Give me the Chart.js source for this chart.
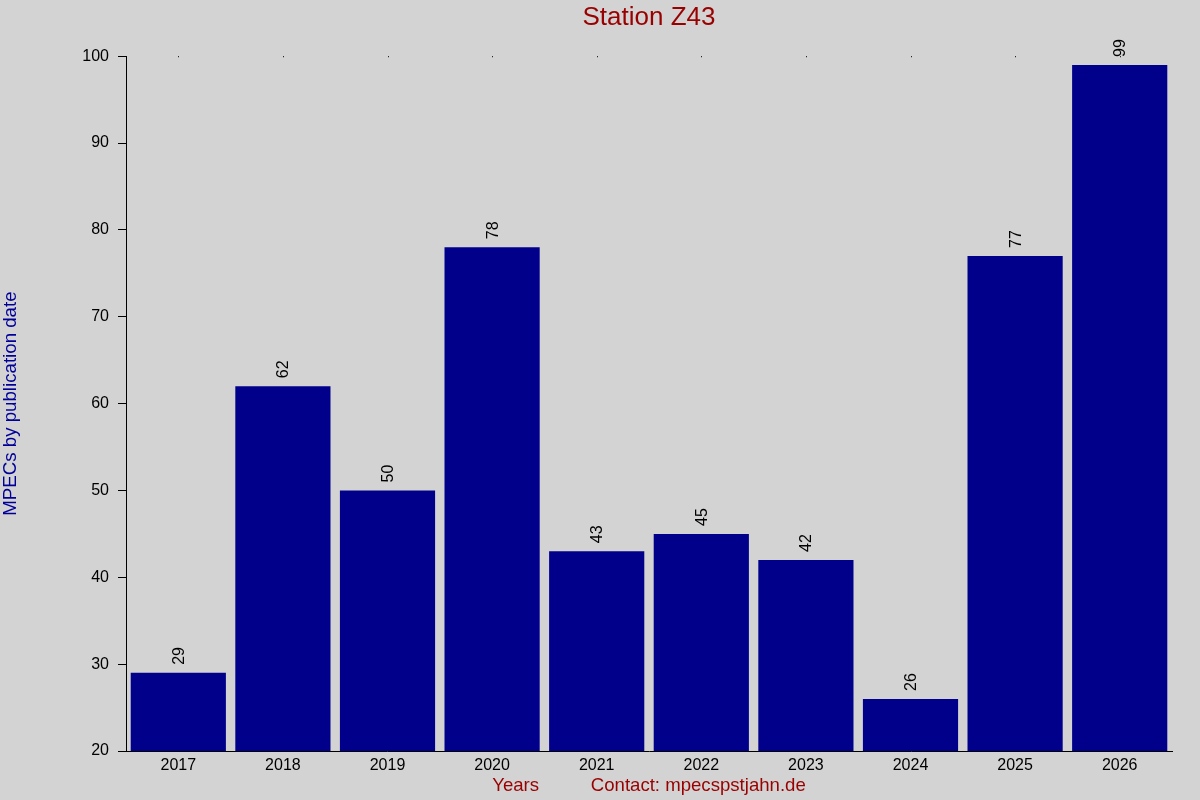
<!DOCTYPE html>
<html>
<head>
<meta charset="utf-8">
<script src="https://cdn.jsdelivr.net/npm/chart.js@4.4.1/dist/chart.umd.min.js"></script>
<style>
html,body{margin:0;padding:0;background:#d3d3d3;}
#wrap{width:1200px;height:800px;}
</style>
</head>
<body>
<div id="wrap"><canvas id="c" width="1200" height="800"></canvas></div>
<script>
const years = ['2017','2018','2019','2020','2021','2022','2023','2024','2025','2026'];
const mpecCounts = [29, 62, 50, 78, 43, 45, 42, 26, 77, 99];
const yTicks = [20, 30, 40, 50, 60, 70, 80, 90, 100];
const chartTitle = 'Station Z43';
const xTitle = 'Years          Contact: mpecspstjahn.de';
const yTitle = 'MPECs by publication date';

const FONT = '"Liberation Sans", Arial, sans-serif';

const bgPlugin = {
  id: 'bg',
  beforeDraw(chart) {
    const ctx = chart.ctx;
    ctx.save();
    ctx.fillStyle = '#d3d3d3';
    ctx.fillRect(0, 0, chart.width, chart.height);
    ctx.restore();
  }
};

const extrasPlugin = {
  id: 'extras',
  afterDatasetsDraw(chart) {
    const ctx = chart.ctx;
    const meta = chart.getDatasetMeta(0);
    const data = chart.data.datasets[0].data;
    ctx.save();
    ctx.fillStyle = '#000';
    ctx.font = '16px ' + FONT;
    ctx.textAlign = 'left';
    ctx.textBaseline = 'middle';
    meta.data.forEach((bar, i) => {
      ctx.save();
      ctx.translate(bar.x + 1, bar.y - 8);
      ctx.rotate(-Math.PI / 2);
      ctx.fillText(String(data[i]), 0, 0);
      ctx.restore();
    });
    // small dots at the top of the plot at each category
    const xs = chart.scales.x;
    const top = chart.chartArea.top;
    ctx.fillStyle = '#000';
    xs.ticks.forEach((t, i) => {
      const px = Math.round(xs.getPixelForTick(i));
      ctx.fillRect(px, top, 1, 1);
    });
    ctx.restore();
  }
};

new Chart(document.getElementById('c'), {
  type: 'bar',
  data: {
    labels: years,
    datasets: [{
      data: mpecCounts,
      backgroundColor: '#00008b',
      borderWidth: 0,
      barPercentage: 0.91,
      categoryPercentage: 1.0
    }]
  },
  options: {
    responsive: false,
    animation: false,
    devicePixelRatio: 1,
    layout: { padding: { left: 0, right: 28, top: 0, bottom: 0 } },
    plugins: {
      legend: { display: false },
      tooltip: { enabled: false },
      title: {
        display: true,
        fullSize: false,
        text: chartTitle,
        color: '#990000',
        font: { family: FONT, size: 26, weight: 'normal' },
        padding: { top: 2, bottom: 23 }
      }
    },
    scales: {
      x: {
        grid: { display: false, drawTicks: false },
        border: { display: true, color: '#000', width: 1 },
        ticks: { color: '#000', font: { family: FONT, size: 16 }, padding: 5, maxRotation: 0 },
        title: {
          display: true,
          text: xTitle,
          color: '#990000',
          font: { family: FONT, size: 18.6 },
          padding: { top: 3, bottom: 3 }
        },
        afterFit(scale) { scale.height = 49; }
      },
      y: {
        min: 20,
        max: 100,
        afterBuildTicks(scale) { scale.ticks = yTicks.map(v => ({ value: v })); },
        grid: { drawOnChartArea: false, drawTicks: true, tickLength: 8, color: '#000' },
        border: { display: true, color: '#000', width: 1 },
        ticks: { color: '#000', font: { family: FONT, size: 16 }, padding: 9 },
        title: {
          display: true,
          text: yTitle,
          color: '#000099',
          font: { family: FONT, size: 18.7 },
          padding: { top: 0, bottom: 0 }
        },
        afterFit(scale) { scale.width = 126; }
      }
    }
  },
  plugins: [bgPlugin, extrasPlugin]
});
</script>
</body>
</html>
